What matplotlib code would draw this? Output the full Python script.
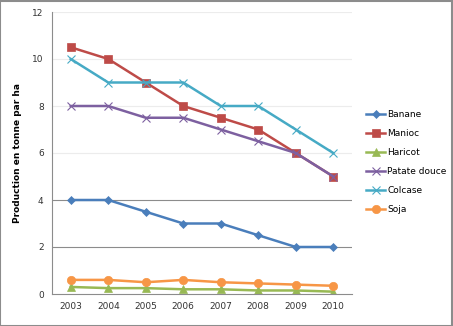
import matplotlib.pyplot as plt
from matplotlib.patches import Rectangle

# Data
years = ['2003', '2004', '2005', '2006', '2007', '2008', '2009', '2010']
banane = [4, 4, 3.5, 3, 3, 2.5, 2, 2]
manioc = [10.5, 10, 9, 8, 7.5, 7, 6, 5]
haricot = [0.3, 0.25, 0.25, 0.2, 0.2, 0.15, 0.15, 0.1]
patate_douce = [8, 8, 7.5, 7.5, 7, 6.5, 6, 5]
colcase = [10, 9, 9, 9, 8, 8, 7, 6]
soja = [0.6, 0.6, 0.5, 0.6, 0.5, 0.45, 0.4, 0.35]

series = [
    ('Banane', banane, '#4A7EBB', 'D', 4),
    ('Manioc', manioc, '#BE4B48', 's', 5.5),
    ('Haricot', haricot, '#98B954', '^', 5.5),
    ('Patate douce', patate_douce, '#7D60A0', 'x', 6),
    ('Colcase', colcase, '#46AAC5', 'x', 6),
    ('Soja', soja, '#F79646', 'o', 6),
]

fig = plt.figure(figsize=(4.53, 3.26), dpi=100)
ax = fig.add_axes([52 / 453, 1 - 294 / 326, 300 / 453, 282 / 326])

x = range(len(years))
for name, vals, col, mk, ms in series:
    ax.plot(x, vals, color=col, marker=mk, markersize=ms, linewidth=1.8,
            markeredgewidth=0.8 if mk == 'x' else 0.5, label=name)

ax.set_xlim(-0.5, len(years) - 0.5)
ax.set_ylim(0, 12)
ax.set_xticks(list(x))
ax.set_xticklabels(years)
ax.set_yticks(range(0, 13, 2))
ax.tick_params(labelsize=6.5, length=0, pad=6, colors='#333333')

# gridlines (lower ones appear darker in the original)
for yv in range(2, 13, 2):
    ax.axhline(yv, color='#8c8c8c' if yv <= 4 else '#ececec', linewidth=0.8, zorder=0)

for side in ['top', 'right']:
    ax.spines[side].set_visible(False)
for side in ['left', 'bottom']:
    ax.spines[side].set_color('#8c8c8c')
    ax.spines[side].set_linewidth(0.8)

fig.text(18 / 453, 1 - 153 / 326, 'Production en tonne par ha', rotation=90,
         fontsize=6.5, fontweight='bold', ha='center', va='center')

fig.legend(loc='center left', bbox_to_anchor=(362 / 453, 1 - 162 / 326),
           frameon=False, fontsize=6.5, handlelength=2.2, labelspacing=1.1,
           handletextpad=0.2, borderaxespad=0)

fig.patches.append(Rectangle((0.001, 0.001), 0.997, 0.996, transform=fig.transFigure,
                             fill=False, edgecolor='#8c8c8c', linewidth=1.5))

fig.savefig('out.png', dpi=100)
